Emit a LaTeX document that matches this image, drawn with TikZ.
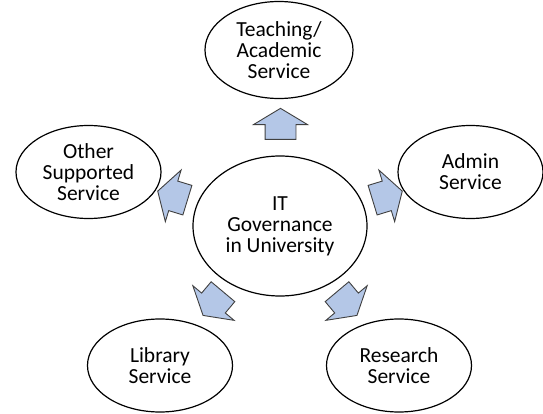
\documentclass[tikz,border=0pt]{standalone}
\usepackage{fontspec}
\setmainfont{Carlito}
\usetikzlibrary{shapes.geometric,shapes.arrows}

\definecolor{arrowblue}{HTML}{B4C7E7}
\definecolor{arrowline}{HTML}{404040}

\begin{document}
\begin{tikzpicture}[
  x=1pt,y=-1pt,
  service node/.style={
    draw,
    ellipse,
    line width=1.2pt,
    inner sep=0pt,
    align=center,
    minimum width=145,
    minimum height=93,
    font=\fontsize{21.5}{21}\selectfont,
  },
  core node/.style={
    service node,
    minimum width=174,
    minimum height=140,
  },
  flow arrow/.style={
    draw=arrowline,
    fill=arrowblue,
    line width=0.9pt,
    single arrow,
    inner xsep=0pt,
    inner ysep=15pt,
    minimum height=31,
    single arrow head extend=11.5,
    single arrow tip angle=118,
  },
  ]
  \useasboundingbox (0,0) rectangle (543,414);
  % centre and services
  \node[core node]    (it-gov)   at (280,226)   {IT\\Governance\\in University};
  \node[service node,minimum width=148,minimum height=97]
                      (teaching) at (279,50)    {Teaching/\\Academic\\Service};
  \node[service node] (admin)    at (470.5,172) {Admin\\Service};
  \node[service node] (other)    at (88.5,172)  {Other\\Supported\\Service};
  \node[service node] (library)  at (160,365.5) {Library\\Service};
  \node[service node] (research) at (399,365.5) {Research\\Service};
  % arrows between them
  \node[flow arrow,rotate=90]  (to-teaching) at (280.5,128.5) {};
  \node[flow arrow,rotate=17]  (to-admin)    at (383,197)     {};
  \node[flow arrow,rotate=163] (to-other)    at (177,197)     {};
  \node[flow arrow,rotate=230] (to-library)  at (216,300)     {};
  \node[flow arrow,rotate=-50] (to-research) at (344,300)     {};
\end{tikzpicture}
\end{document}
